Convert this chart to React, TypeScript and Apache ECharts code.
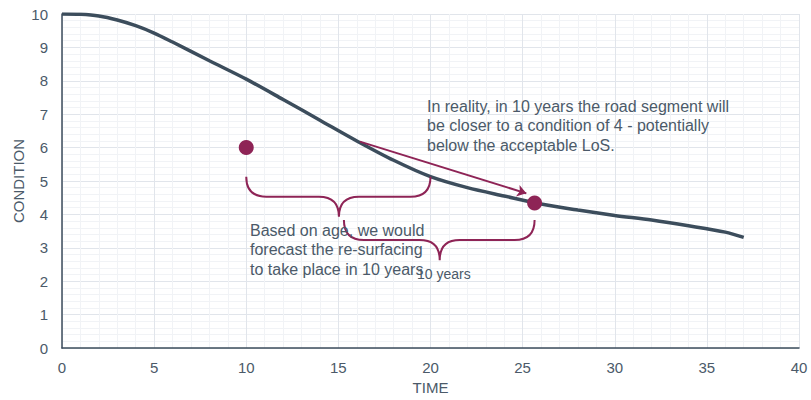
import React, { useEffect, useRef } from "react";
import * as echarts from "echarts";

// Deterioration curve: condition against time (years)
const curveTime = [0, 1, 2, 3, 4, 5, 6, 8, 10, 12, 14, 16, 18, 20, 22, 24, 26, 28, 30, 32, 34, 36, 37];
const curveCondition = [10, 9.99, 9.94, 9.82, 9.65, 9.43, 9.16, 8.6, 8.05, 7.44, 6.82, 6.2, 5.62, 5.13, 4.8, 4.55, 4.31, 4.13, 3.97, 3.83, 3.66, 3.47, 3.31];

// Highlighted points: age-based forecast and actual condition
const pointTime = [10, 25.65];
const pointCondition = [6, 4.34];

// Arrow from the curve towards the actual point
const arrowFrom = [16.17, 6.18];
const arrowTo = [25.2, 4.63];

// Curly braces: [left x, right x, end y, middle y, tip y, tip x]
const braceLeftX = [10, 15.3];
const braceRightX = [20, 25.65];
const braceEndY = [5.13, 3.83];
const braceMidY = [4.53, 3.23];
const braceTipY = [3.93, 2.63];
const braceTipX = [15.03, 20.5];

const FONT = "'Liberation Sans', Arial, sans-serif";
const TEXT = "#4b5a69";
const DARK = "#3c4d5c";
const MAROON = "#8e2456";

export default function App() {
  const ref = useRef<HTMLDivElement>(null);

  useEffect(() => {
    if (!ref.current) return;
    const chart = echarts.init(ref.current, null, { renderer: "svg" });

    const braces = braceLeftX.map((x1, i) => [x1, braceRightX[i], braceEndY[i], braceMidY[i], braceTipY[i], braceTipX[i]]);

    chart.setOption({
      animation: false,
      textStyle: { fontFamily: FONT },
      grid: { left: 62, right: 12, top: 14, bottom: 52, containLabel: false, outerBoundsMode: "none" },
      xAxis: {
        type: "value",
        min: 0,
        max: 40,
        interval: 5,
        name: "TIME",
        nameLocation: "middle",
        nameGap: 32,
        nameTextStyle: { color: TEXT, fontSize: 15, fontFamily: FONT },
        axisLine: { show: true, onZero: false, lineStyle: { color: DARK, width: 1.5 } },
        axisTick: { show: false },
        axisLabel: { color: TEXT, fontSize: 15, margin: 12, fontFamily: FONT },
        splitLine: { show: true, lineStyle: { color: "#e1e5eb", width: 1 } },
        minorTick: { show: false, splitNumber: 5 },
        minorSplitLine: { show: true, lineStyle: { color: "#f1f3f6", width: 1 } },
      },
      yAxis: {
        type: "value",
        min: 0,
        max: 10,
        interval: 1,
        name: "CONDITION",
        nameLocation: "middle",
        nameGap: 36,
        nameMoveOverlap: false,
        nameTextStyle: { color: TEXT, fontSize: 15, fontFamily: FONT },
        axisLine: { show: true, lineStyle: { color: DARK, width: 1.5 } },
        axisTick: { show: false },
        axisLabel: { color: TEXT, fontSize: 15, margin: 14, fontFamily: FONT },
        splitLine: { show: true, lineStyle: { color: "#e1e5eb", width: 1 } },
        minorTick: { show: false, splitNumber: 5 },
        minorSplitLine: { show: true, lineStyle: { color: "#f1f3f6", width: 1 } },
      },
      series: [
        {
          type: "line",
          data: curveTime.map((t, i) => [t, curveCondition[i]]),
          smooth: 0.3,
          showSymbol: false,
          lineStyle: { color: DARK, width: 3.5 },
          z: 3,
        },
        {
          type: "custom",
          data: braces,
          z: 4,
          renderItem: (params: any, api: any) => {
            const x1 = api.value(0), x2 = api.value(1);
            const yEnd = api.value(2), yMid = api.value(3), yTip = api.value(4), xTip = api.value(5);
            const [px1, pyEnd] = api.coord([x1, yEnd]);
            const [px2] = api.coord([x2, yEnd]);
            const [pxTip, pyMid] = api.coord([xTip, yMid]);
            const pyTip = api.coord([xTip, yTip])[1];
            const r = 20;
            const d = [
              `M${px1},${pyEnd}`,
              `Q${px1},${pyMid} ${px1 + r},${pyMid}`,
              `L${pxTip - r},${pyMid}`,
              `Q${pxTip},${pyMid} ${pxTip},${pyTip}`,
              `Q${pxTip},${pyMid} ${pxTip + r},${pyMid}`,
              `L${px2 - r},${pyMid}`,
              `Q${px2},${pyMid} ${px2},${pyEnd}`,
            ].join(" ");
            return {
              type: "path",
              shape: { pathData: d },
              style: { stroke: MAROON, fill: "none", lineWidth: 2 },
            };
          },
        },
        {
          type: "lines",
          coordinateSystem: "cartesian2d",
          symbol: ["none", "arrow"],
          symbolSize: 9,
          lineStyle: { color: MAROON, width: 2, opacity: 1 },
          data: [{ coords: [arrowFrom, arrowTo] }],
          z: 5,
        },
        {
          type: "scatter",
          data: pointTime.map((t, i) => [t, pointCondition[i]]),
          symbolSize: 15,
          itemStyle: { color: MAROON, opacity: 1 },
          z: 6,
        },
      ],
      graphic: [
        {
          type: "text",
          left: 427,
          top: 97,
          style: {
            text: "In reality, in 10 years the road segment will\nbe closer to a condition of 4 - potentially\nbelow the acceptable LoS.",
            fill: TEXT,
            fontSize: 16,
            lineHeight: 19.3,
            fontFamily: FONT,
          },
          z: 10,
        },
        {
          type: "text",
          left: 250,
          top: 221,
          style: {
            text: "Based on age, we would\nforecast the re-surfacing\nto take place in 10 years",
            fill: TEXT,
            fontSize: 16,
            lineHeight: 19.3,
            fontFamily: FONT,
          },
          z: 10,
        },
        {
          type: "text",
          left: 417,
          top: 267,
          style: { text: "10 years", fill: TEXT, fontSize: 14, fontFamily: FONT },
          z: 10,
        },
      ],
    });

    return () => chart.dispose();
  }, []);

  return <div ref={ref} style={{ width: 811, height: 400, position: "absolute", left: 0, top: 0 }} />;
}
